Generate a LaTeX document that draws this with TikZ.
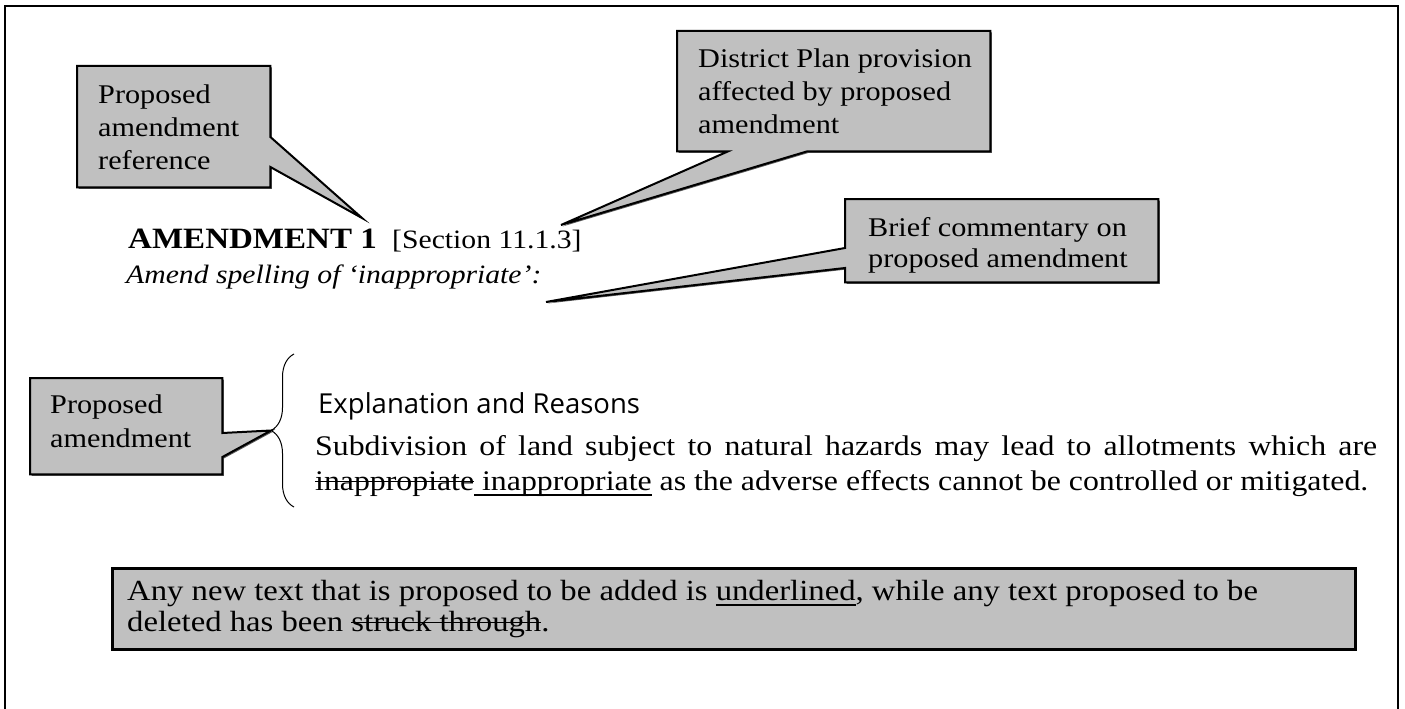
\documentclass[tikz,border=0pt]{standalone}
\usepackage{fontspec}
\setmainfont{Liberation Serif}[FakeStretch=1.12, BoldFeatures={FakeStretch=1.12}, ItalicFeatures={FakeStretch=1.12}]
\newfontfamily\sansfnt{Open Sans}
\newcommand{\strk}[1]{\setbox0\hbox{#1}\rlap{\rule[0.27em]{\wd0}{1.5pt}}\box0\relax}
\newcommand{\undl}[1]{\setbox0\hbox{#1}\rlap{\rule[-0.2em]{\wd0}{2pt}}\box0\relax}
\usetikzlibrary{backgrounds,decorations.pathreplacing,calc,shadows}
\definecolor{boxgray}{RGB}{192,192,192}
\begin{document}
\begin{tikzpicture}[x=1pt,y=-1pt,
  boxshape/.style={draw=none, inner sep=0pt, anchor=north west},
  shapefill/.style={fill=boxgray, draw=black, line width=2pt, line join=miter,
    drop shadow={shadow xshift=1.5pt, shadow yshift=-1.5pt, fill=black!65, opacity=1}},
  txt/.style={anchor=base west, inner sep=0pt},
  callfont/.style={font=\fontsize{27}{33}\selectfont},
  bodyfont/.style={font=\fontsize{28.4}{35}\selectfont},
  notefont/.style={font=\fontsize{29.2}{32}\selectfont}]
\useasboundingbox (0,0) rectangle (1405,709);
% outer frame
\coordinate (frBL) at (5,730);
\coordinate (frTL) at (5,6);
\coordinate (frTR) at (1398,6);
\coordinate (frBR) at (1398,730);
\draw[line width=2pt] (frBL) -- (frTL) -- (frTR) -- (frBR);

% callout boxes (outlines drawn on the background layer)
\node[boxshape, minimum width=193pt, minimum height=121pt] (boxA) at (77,66) {};
\node[boxshape, minimum width=313pt, minimum height=120pt] (boxB) at (677,31) {};
\node[boxshape, minimum width=313pt, minimum height=83pt] (boxC) at (845,199) {};
\node[boxshape, minimum width=192pt, minimum height=96pt] (boxD) at (30,378) {};

% callout texts
\node[txt, callfont] (a1) at (98,103) {Proposed};
\node[txt, callfont] (a2) at (98,136) {amendment};
\node[txt, callfont] (a3) at (98,169) {reference};
\node[txt, callfont] (b1) at (698,67) {District Plan provision};
\node[txt, callfont] (b2) at (698,100) {affected by proposed};
\node[txt, callfont] (b3) at (698,133) {amendment};
\node[txt, callfont] (c1) at (868,236) {Brief commentary on};
\node[txt, callfont] (c2) at (868,267) {proposed amendment};
\node[txt, callfont] (d1) at (50,413) {Proposed};
\node[txt, callfont] (d2) at (50,447) {amendment};

% document texts
\node[txt, font=\bfseries\fontsize{29.5}{32}\selectfont] (amend) at (128,248) {AMENDMENT 1};
\node[txt, font=\fontsize{26.5}{30}\selectfont] (sect) at (392,248) {[Section 11.1.3]};
\node[txt, font=\itshape\fontsize{26.5}{30}\selectfont] (spell) at (126,283) {Amend spelling of ‘inappropriate’:};
\node[txt, font=\sansfnt\fontsize{27.5}{30}\selectfont] (expl) at (318,413) {Explanation and Reasons};
\node[txt, bodyfont] (para1) at (315,455) {\makebox[1062pt][s]{Subdivision of land subject to natural hazards may lead to allotments which are}};
\node[txt, bodyfont] (para2) at (315,490) {\strk{inappropiate}\undl{\ inappropriate} as the adverse effects cannot be controlled or mitigated.};

% pointer tips
\coordinate (tipA) at (362,218);
\coordinate (tipB) at (561,225);
\coordinate (tipC) at (546,302);
\coordinate (braceTop) at (294,354);
\coordinate (braceBot) at (294,507);
\coordinate (tipD) at (271,430.5);

\draw[line width=1pt, decorate, decoration={brace, amplitude=23pt, aspect=0.5}] (braceBot) -- (braceTop);

\begin{scope}[on background layer]
\draw[shapefill] (boxA.north west) -- (boxA.north east) -- ($(boxA.north east)+(0,71)$) -- (tipA) -- ($(boxA.north east)+(0,101)$) -- (boxA.south east) -- (boxA.south west) -- cycle;
\draw[shapefill] (boxB.north west) -- (boxB.north east) -- (boxB.south east) -- ($(boxB.south west)+(130,0)$) -- (tipB) -- ($(boxB.south west)+(51,0)$) -- (boxB.south west) -- cycle;
\draw[shapefill] (boxC.north west) -- (boxC.north east) -- (boxC.south east) -- (boxC.south west) -- ($(boxC.north west)+(0,69)$) -- (tipC) -- ($(boxC.north west)+(0,49)$) -- cycle;
\draw[shapefill] (boxD.north west) -- (boxD.north east) -- ($(boxD.north east)+(0,55)$) -- (tipD) -- ($(boxD.north east)+(0,79)$) -- (boxD.south east) -- (boxD.south west) -- cycle;
\end{scope}

% bottom note box
\node[draw, line width=2.5pt, fill=boxgray, minimum width=1243pt, minimum height=81pt, anchor=north west, inner sep=0pt] (boxE) at (111,567) {};
\node[txt, notefont] (bot1) at (127,600) {Any new text that is proposed to be added is \undl{underlined}, while any text proposed to be};
\node[txt, notefont] (bot2) at (127,631) {deleted has been \strk{struck through}.};
\end{tikzpicture}
\end{document}
